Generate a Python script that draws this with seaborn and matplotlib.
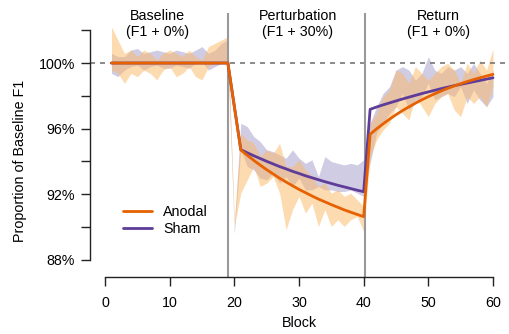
import numpy as np
import pandas as pd
import matplotlib
matplotlib.use("Agg")
import matplotlib.pyplot as plt
import seaborn as sns

sns.set_theme(style="white")
plt.rcParams["font.family"] = ["Liberation Sans", "DejaVu Sans"]
plt.rcParams["text.color"] = "black"

# shaded bands (mean +/- SE), blocks 1..60
blocks = list(range(1, 61))
anodal_lo = [99.57, 99.37, 98.76, 99.37, 99.17, 99.57, 99.37, 98.97, 99.57, 99.78,
             99.17, 99.37, 99.78, 99.17, 98.97, 99.78, 99.98, 100.18, 99.98, 90.05,
             92.07, 92.88, 93.69, 92.48, 92.68, 93.08, 92.07, 89.84, 91.06, 91.87,
             90.85, 91.46, 90.04, 91.06, 90.04, 90.45, 90.04, 90.45, 90.65, 89.74,
             94.30, 95.31, 95.92, 96.33, 97.34, 96.93, 96.53, 97.95, 97.34, 96.73,
             97.54, 97.95, 98.15, 97.14, 96.73, 97.95, 97.54, 97.95, 97.34, 98.56]
anodal_hi = [102.21, 101.40, 100.59, 100.79, 100.39, 100.79, 100.59, 100.18, 100.59, 100.79,
             100.59, 100.39, 100.79, 100.39, 100.18, 101.00, 101.20, 101.40, 101.61, 90.45,
             95.72, 95.32, 95.11, 94.30, 94.71, 94.50, 95.11, 93.69, 93.69, 94.10,
             93.49, 93.08, 92.48, 92.68, 92.07, 92.27, 91.87, 92.07, 91.66, 91.26,
             96.33, 96.93, 97.95, 98.36, 99.57, 99.37, 98.76, 99.78, 99.37, 98.96,
             99.37, 99.78, 99.98, 99.57, 98.76, 99.98, 99.37, 100.18, 99.57, 100.89]
sham_lo = [99.37, 99.17, 99.57, 99.78, 99.88, 99.57, 99.78, 99.88, 99.68, 99.68,
           99.88, 99.78, 99.68, 99.98, 100.08, 99.57, 99.78, 99.98, 100.18, 89.60,
           94.71, 93.69, 93.49, 92.98, 92.88, 93.28, 92.68, 93.08, 92.48, 92.98,
           92.27, 92.27, 92.48, 92.27, 92.27, 92.17, 92.17, 92.27, 92.07, 91.87,
           93.90, 95.72, 96.33, 96.93, 97.34, 98.15, 97.14, 97.54, 97.95, 98.76,
           97.75, 97.95, 98.15, 97.95, 98.56, 97.54, 98.36, 97.75, 97.34, 97.95]
sham_hi = [100.59, 100.39, 100.39, 100.79, 100.89, 100.59, 100.69, 100.79, 100.69, 100.59,
           100.79, 100.69, 100.59, 100.79, 101.00, 100.59, 100.79, 101.20, 101.40, 89.95,
           96.33, 96.13, 95.52, 95.21, 94.71, 94.60, 94.40, 94.20, 94.71, 94.20,
           93.89, 94.10, 93.08, 94.30, 94.00, 93.89, 93.79, 93.89, 93.79, 94.10,
           96.33, 97.34, 98.15, 98.56, 99.57, 99.78, 99.57, 98.96, 99.37, 100.38,
           99.57, 99.37, 99.78, 99.57, 99.78, 99.37, 99.98, 99.37, 98.76, 99.57]

# model fits: baseline 1-19, perturbation 21-40, return 41-60
fit_blocks = list(range(1, 20)) + list(range(21, 61))
anodal_fit = [100.0] * 19 + [
    94.70, 94.38, 94.07, 93.78, 93.50, 93.24, 92.98, 92.75, 92.52, 92.30,
    92.10, 91.90, 91.71, 91.54, 91.37, 91.21, 91.05, 90.91, 90.77, 90.64,
    95.66, 95.99, 96.29, 96.58, 96.85, 97.10, 97.33, 97.55, 97.76, 97.95,
    98.13, 98.30, 98.46, 98.60, 98.74, 98.87, 98.99, 99.10, 99.21, 99.31]
sham_fit = [100.0] * 19 + [
    94.72, 94.53, 94.35, 94.18, 94.01, 93.85, 93.69, 93.55, 93.40, 93.27,
    93.13, 93.01, 92.89, 92.77, 92.66, 92.55, 92.45, 92.35, 92.25, 92.16,
    97.18, 97.32, 97.45, 97.57, 97.69, 97.81, 97.92, 98.03, 98.14, 98.24,
    98.34, 98.44, 98.53, 98.62, 98.70, 98.78, 98.86, 98.94, 99.02, 99.10]

phase_edges = [19, 40.25]
phase_titles = ["Baseline", "Perturbation", "Return"]
phase_subs = ["(F1 + 0%)", "(F1 + 30%)", "(F1 + 0%)"]
phase_x = [8.1, 29.8, 51.6]

colors = {"Anodal": "#e66101", "Sham": "#5e3c99"}
fills = {"Anodal": "#fdb863", "Sham": "#b2abd2"}

fits = pd.DataFrame({
    "Block": fit_blocks * 2,
    "Prop": anodal_fit + sham_fit,
    "Group": ["Anodal"] * len(fit_blocks) + ["Sham"] * len(fit_blocks),
})

fig = plt.figure(figsize=(5.09, 3.34), dpi=100)
ax = fig.add_axes([89.5 / 509, 57 / 334, 419 / 509, 264.5 / 334])

ax.fill_between(blocks, sham_lo, sham_hi, color=fills["Sham"], alpha=0.6, lw=0)
ax.fill_between(blocks, anodal_lo, anodal_hi, color=fills["Anodal"], alpha=0.5, lw=0)

ax.axhline(100, color="#777777", lw=1.2, dashes=(3, 3), zorder=1)
for xe in phase_edges:
    ax.axvline(xe, color="#999999", lw=1.5, zorder=1)

sns.lineplot(data=fits, x="Block", y="Prop", hue="Group", hue_order=["Sham", "Anodal"],
             palette=colors, estimator=None, lw=2, ax=ax, zorder=3)

ax.set_xlim(-2.4, 62.4)
ax.set_ylim(86.96, 103.08)

for xt, t, s in zip(phase_x, phase_titles, phase_subs):
    tr = ax.get_xaxis_transform()
    ax.text(xt, 0.9716, t, transform=tr, ha="center", va="baseline", fontsize=10.3)
    ax.text(xt, 0.911, s, transform=tr, ha="center", va="baseline", fontsize=10.3)

ax.set_xticks([0, 10, 20, 30, 40, 50, 60])
ax.set_yticks([88, 90, 92, 94, 96, 98, 100, 102])
ax.set_yticklabels(["88%", "", "92%", "", "96%", "", "100%", ""])
ax.tick_params(axis="both", direction="out", length=6.8, width=1, color="#222222",
               labelsize=10.3, labelcolor="black", left=True, bottom=True)
ax.tick_params(axis="x", pad=7)
ax.tick_params(axis="y", pad=3.5)

sns.despine(ax=ax)
ax.spines["left"].set_bounds(88, 102)
ax.spines["bottom"].set_bounds(0, 60)
for sp in ["left", "bottom"]:
    ax.spines[sp].set_color("#222222")
    ax.spines[sp].set_linewidth(1)

ax.set_xlabel("")
ax.set_ylabel("")
fig.text(299 / 509, 1 - 323 / 334, "Block", ha="center", va="center", fontsize=10.3)
fig.text(20 / 509, 1 - 161 / 334, "Proportion of Baseline F1", rotation=90,
         ha="center", va="center", fontsize=10.3)

handles, labels = ax.get_legend_handles_labels()
order = [labels.index("Anodal"), labels.index("Sham")]
ax.legend([handles[i] for i in order], [labels[i] for i in order],
          loc="upper left", bbox_to_anchor=(123 / 509, 1 - 205 / 334),
          bbox_transform=fig.transFigure, frameon=False, fontsize=10.3,
          handlelength=2.0, handletextpad=0.8, labelspacing=0.2, borderpad=0,
          borderaxespad=0)

fig.savefig("out.png", dpi=100)
